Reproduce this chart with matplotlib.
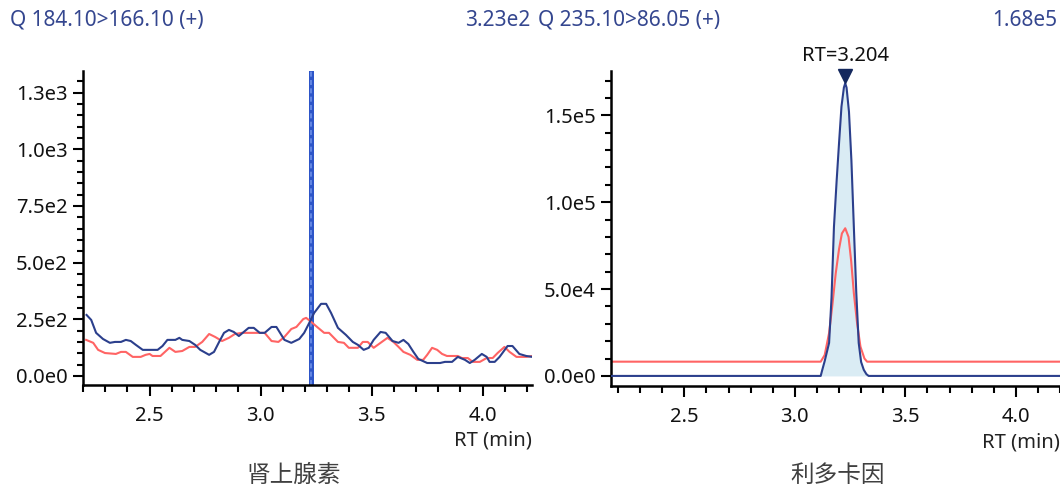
import numpy as np
import matplotlib
matplotlib.use("Agg")
import matplotlib.pyplot as plt

plt.rcParams['font.family'] = ['Noto Sans', 'Noto Sans CJK SC', 'DejaVu Sans']

# left panel: 184.10>166.10, noisy traces
rt_blue_l = [2.216, 2.237, 2.259, 2.290, 2.321, 2.344, 2.371, 2.393, 2.415, 2.438, 2.469, 2.536,
             2.558, 2.580, 2.616, 2.634, 2.647, 2.679, 2.705, 2.728, 2.768, 2.790, 2.813, 2.835,
             2.857, 2.879, 2.902, 2.946, 2.969, 2.996, 3.018, 3.049, 3.071, 3.107, 3.138, 3.174,
             3.196, 3.219, 3.241, 3.272, 3.295, 3.317, 3.348, 3.384, 3.415, 3.438, 3.464, 3.487,
             3.509, 3.540, 3.563, 3.594, 3.621, 3.643, 3.665, 3.688, 3.710, 3.750, 3.808, 3.830,
             3.862, 3.888, 3.920, 3.942, 3.964, 3.996, 4.018, 4.031, 4.054, 4.076, 4.112, 4.134,
             4.165, 4.196, 4.223]
int_blue_l = [269, 247, 190, 163, 146, 150, 150, 159, 154, 137, 115, 115,
              132, 159, 159, 168, 159, 154, 137, 115, 93, 106, 150, 190,
              203, 194, 176, 212, 212, 190, 190, 216, 216, 159, 146, 163,
              190, 234, 278, 318, 318, 278, 212, 181, 150, 137, 115, 124,
              159, 194, 190, 154, 146, 159, 141, 106, 75, 57, 57, 62,
              62, 84, 71, 57, 71, 97, 84, 62, 62, 84, 132, 132,
              97, 88, 84]

rt_red_l = [2.214, 2.246, 2.268, 2.299, 2.348, 2.371, 2.393, 2.424, 2.460, 2.482, 2.500, 2.513,
            2.549, 2.589, 2.616, 2.647, 2.679, 2.705, 2.737, 2.768, 2.795, 2.826, 2.857, 2.884,
            2.915, 3.018, 3.049, 3.080, 3.107, 3.138, 3.161, 3.192, 3.205, 3.228, 3.259, 3.286,
            3.308, 3.348, 3.375, 3.397, 3.438, 3.460, 3.482, 3.509, 3.540, 3.571, 3.598, 3.621,
            3.643, 3.674, 3.705, 3.732, 3.750, 3.772, 3.795, 3.817, 3.839, 3.888, 3.906, 3.933,
            3.955, 3.987, 4.018, 4.045, 4.067, 4.098, 4.121, 4.152, 4.196, 4.223]
int_red_l = [159, 146, 115, 101, 97, 106, 106, 84, 84, 93, 97, 88,
             88, 124, 106, 110, 128, 128, 150, 185, 172, 154, 168, 185,
             190, 190, 154, 150, 172, 207, 216, 251, 256, 238, 212, 190,
             190, 150, 146, 124, 124, 150, 150, 124, 146, 168, 150, 128,
             106, 93, 71, 71, 93, 124, 115, 97, 88, 88, 79, 79,
             62, 62, 79, 79, 101, 128, 106, 84, 84, 88]
expected_rt_l = 3.228

# right panel: 235.10>86.05, single peak
rt_blue_r = [2.10, 3.117, 3.124, 3.135, 3.155, 3.166, 3.177, 3.189, 3.200, 3.211, 3.222, 3.228,
             3.234, 3.245, 3.256, 3.267, 3.278, 3.289, 3.300, 3.312, 3.324, 3.334, 4.25]
int_blue_r = [0, 0, 3400, 8500, 19000, 45000, 85800, 112000, 134000, 155000, 166000, 168400,
              166000, 152000, 124000, 85800, 48000, 19000, 8000, 3500, 1000, 0, 0]
rt_red_r = [2.10, 3.117, 3.135, 3.155, 3.170, 3.185, 3.200, 3.213, 3.228, 3.243, 3.255, 3.267,
            3.282, 3.297, 3.315, 3.327, 4.25]
int_red_r = [8200, 8200, 12000, 24700, 41000, 59000, 73000, 82000, 85000, 80000, 66000, 47700,
             30000, 16800, 10000, 8200, 8200]
peak_label = "RT=3.204"

blue = '#2b3f8c'
red = '#ff6464'
title_col = '#34468f'
fs = 14.5

fig = plt.figure(figsize=(10.6, 4.88), dpi=100)
ax1 = fig.add_axes([83/1060, 103/488, 449/1060, 314/488])
ax2 = fig.add_axes([611/1060, 102/488, 449/1060, 315/488])


def style(ax, xlim, ylim, ymaj, ymin, ylabels):
    ax.set_xlim(*xlim)
    ax.set_ylim(*ylim)
    for s in ['top', 'right']:
        ax.spines[s].set_visible(False)
    for s in ['left', 'bottom']:
        ax.spines[s].set_linewidth(1.8)
    ax.set_xticks([2.5, 3.0, 3.5, 4.0])
    ax.set_xticklabels(['2.5', '3.0', '3.5', '4.0'])
    ax.set_xticks(np.arange(2.2, 4.25, 0.1), minor=True)
    ax.set_yticks(ymaj)
    ax.set_yticklabels(ylabels)
    ax.set_yticks(ymin, minor=True)
    ax.tick_params(axis='both', which='major', labelsize=fs, width=1.5, color='black',
                   labelcolor='#111111')
    ax.tick_params(axis='x', which='major', length=8, pad=7)
    ax.tick_params(axis='x', which='minor', length=5, width=1.5)
    ax.tick_params(axis='y', which='major', length=7, pad=4)
    ax.tick_params(axis='y', which='minor', length=4, width=1.5)
    ax.annotate('RT (min)', xy=(1.0, -0.178), xycoords='axes fraction',
                ha='right', va='center', fontsize=fs, color='#222222')


style(ax1, (2.215, 4.222), (-40, 1345), [0, 250, 500, 750, 1000, 1250],
      np.arange(0, 1345, 50), ['0.0e0', '2.5e2', '5.0e2', '7.5e2', '1.0e3', '1.3e3'])
style(ax2, (2.168, 4.19), (-5800, 175500), [0, 50000, 100000, 150000],
      np.arange(0, 175001, 10000), ['0.0e0', '5.0e4', '1.0e5', '1.5e5'])

ax1.axvline(expected_rt_l, color='#2d55c8', lw=3.6, zorder=1)
ax1.axvline(expected_rt_l, color='#6f90e8', lw=1.2, ls=(0, (3, 2)), zorder=1)
ax1.plot(rt_red_l, int_red_l, color=red, lw=1.5, zorder=2)
ax1.plot(rt_blue_l, int_blue_l, color=blue, lw=1.5, zorder=3)

ax2.fill_between(rt_blue_r, int_blue_r, 0, color='#daecf4', lw=0, zorder=1)
ax2.plot(rt_red_r, int_red_r, color=red, lw=1.5, zorder=2)
ax2.plot(rt_blue_r, int_blue_r, color=blue, lw=1.5, zorder=3)
i_pk = int(np.argmax(int_blue_r))
ax2.plot(rt_blue_r[i_pk], int_blue_r[i_pk] + 4500, marker='v', ms=10, color='#14285e',
         clip_on=False, zorder=4)
ax2.annotate(peak_label, xy=(rt_blue_r[i_pk], int_blue_r[i_pk]), xytext=(0, 20),
             textcoords='offset points', ha='center', va='center', fontsize=fs,
             color='#111111', annotation_clip=False)

# header texts
fig.text(10/1060, 1 - 20/488, 'Q 184.10>166.10 (+)', ha='left', va='center',
         fontsize=15, color=title_col)
fig.text(530/1060, 1 - 20/488, '3.23e2', ha='right', va='center', fontsize=15, color=title_col)
fig.text(538/1060, 1 - 20/488, 'Q 235.10>86.05 (+)', ha='left', va='center',
         fontsize=15, color=title_col)
fig.text(1057/1060, 1 - 20/488, '1.68e5', ha='right', va='center', fontsize=15, color=title_col)

# compound names
fig.text(294/1060, 1 - 475/488, '肾上腺素', ha='center', va='center', fontsize=17,
         color='#404040', family=['Noto Sans CJK SC', 'DejaVu Sans'])
fig.text(838/1060, 1 - 475/488, '利多卡因', ha='center', va='center', fontsize=17,
         color='#404040', family=['Noto Sans CJK SC', 'DejaVu Sans'])

fig.savefig('out.png', dpi=100)
